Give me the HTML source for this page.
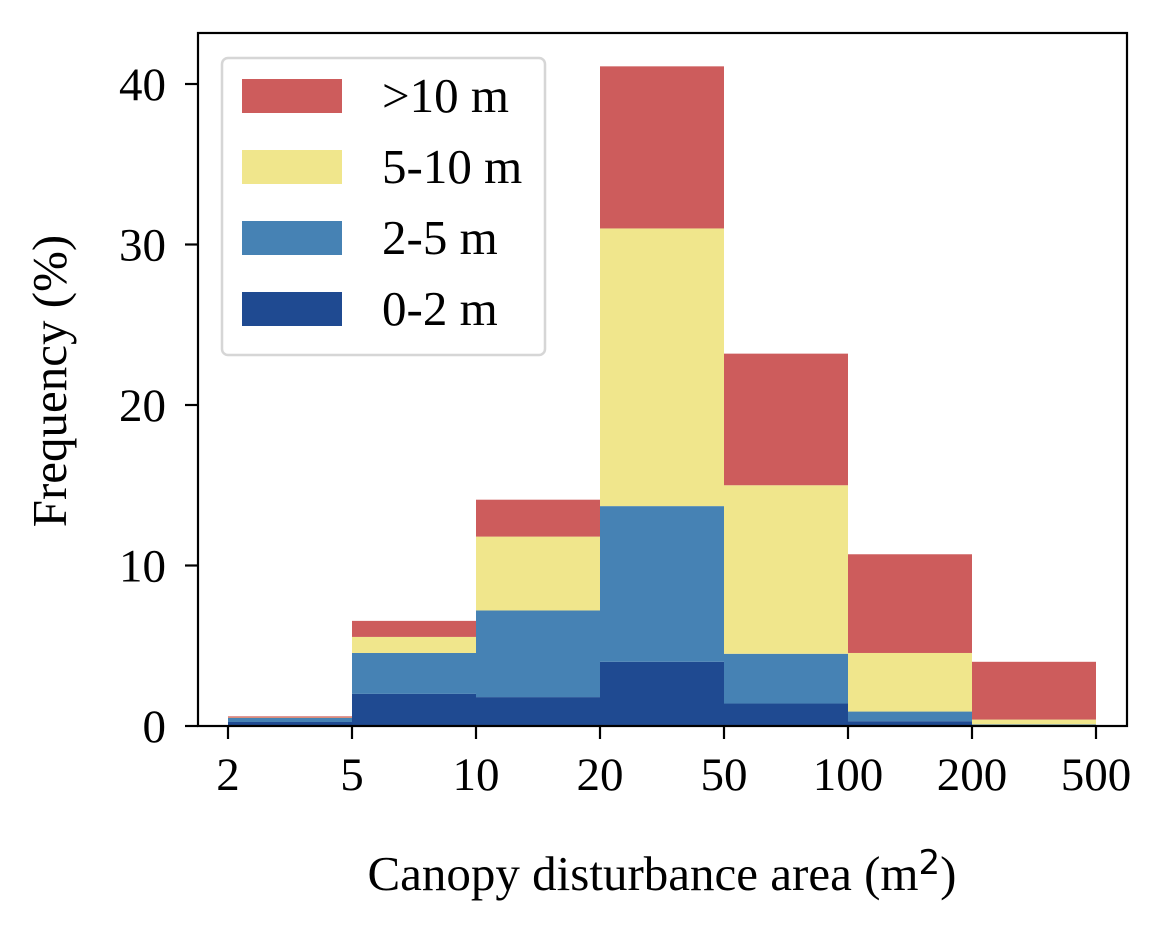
<!DOCTYPE html>
<html><head><meta charset="utf-8"><style>
body{margin:0;background:#fff;}
svg text{font-family:"Liberation Serif",serif;fill:#000;font-size:49px;}
svg text.tick{font-size:47px;}
</style></head><body>
<svg width="1163" height="933" xmlns="http://www.w3.org/2000/svg">
<rect x="0" y="0" width="1163" height="933" fill="#fff"/>
<g id="bars"></g>
<rect x="198" y="33" width="929" height="693" fill="none" stroke="#000" stroke-width="2.2"/>
<g id="axes"></g>
<text x="66" y="381" text-anchor="middle" transform="rotate(-90 66 381)">Frequency (%)</text>
<text x="662" y="890" text-anchor="middle">Canopy disturbance area (m<tspan dy="-16" style="font-size:34px;font-family:'DejaVu Sans',sans-serif">2</tspan><tspan dy="16">)</tspan></text>
<g>
<rect x="222" y="58" width="323" height="297" rx="6" fill="#fff" stroke="#d6d6d6" stroke-width="2.5"/>
<g id="legend"></g>
</g>
</svg>
<script>
const binLabels = ["2","5","10","20","50","100","200","500"];
const yTicks = [0,10,20,30,40];
const seriesNames = ["0-2 m","2-5 m","5-10 m",">10 m"];
const seriesColors = ["#1f4a91","#4682b4","#f0e68c","#cd5c5c"];
const s0_2 = [0.25, 2.0, 1.8, 4.0, 1.4, 0.3, 0.05];
const s2_5 = [0.25, 2.55, 5.4, 9.7, 3.1, 0.6, 0.05];
const s5_10 = [0.02, 1.0, 4.6, 17.3, 10.5, 3.65, 0.3];
const s10 = [0.08, 1.0, 2.3, 10.1, 8.2, 6.15, 3.6];
const series = [s0_2, s2_5, s5_10, s10];
const NS="http://www.w3.org/2000/svg";
const x0=228, dx=124, yBase=726, yScale=(726-84)/40;
const xs = i => x0 + i*dx;
const ys = v => yBase - v*yScale;
const bars=document.getElementById('bars');
for(let b=0;b<7;b++){
  let cum=0;
  for(let s=0;s<4;s++){
    const v=series[s][b];
    const r=document.createElementNS(NS,'rect');
    r.setAttribute('x',xs(b)); r.setAttribute('width',dx);
    r.setAttribute('y',ys(cum+v)); r.setAttribute('height',v*yScale);
    r.setAttribute('fill',seriesColors[s]);
    
    
    bars.appendChild(r);
    cum+=v;
  }
}
const axes=document.getElementById('axes');
binLabels.forEach((l,i)=>{
  const t=document.createElementNS(NS,'line');
  t.setAttribute('x1',xs(i));t.setAttribute('x2',xs(i));t.setAttribute('y1',726);t.setAttribute('y2',739);
  t.setAttribute('stroke','#000');t.setAttribute('stroke-width','2.2');
  axes.appendChild(t);
  const tx=document.createElementNS(NS,'text');
  tx.setAttribute('class','tick');
  tx.setAttribute('x',xs(i));tx.setAttribute('y',790);tx.setAttribute('text-anchor','middle');
  tx.textContent=l;
  
  
  axes.appendChild(tx);
});
yTicks.forEach(v=>{
  const t=document.createElementNS(NS,'line');
  t.setAttribute('x1',185);t.setAttribute('x2',198);t.setAttribute('y1',ys(v));t.setAttribute('y2',ys(v));
  t.setAttribute('stroke','#000');t.setAttribute('stroke-width','2.2');
  axes.appendChild(t);
  const tx=document.createElementNS(NS,'text');
  tx.setAttribute('class','tick');
  tx.setAttribute('x',166);tx.setAttribute('y',ys(v)+16);tx.setAttribute('text-anchor','end');
  tx.textContent=v;
  
  
  axes.appendChild(tx);
});
const lg=document.getElementById('legend');
for(let k=0;k<4;k++){
  const s=3-k, cy=96+k*71;
  const r=document.createElementNS(NS,'rect');
  r.setAttribute('x',242);r.setAttribute('y',cy-17);r.setAttribute('width',100);r.setAttribute('height',34);
  r.setAttribute('fill',seriesColors[s]);
  
  
  lg.appendChild(r);
  const tx=document.createElementNS(NS,'text');
  tx.setAttribute('x',382);tx.setAttribute('y',cy+16);
  tx.textContent=seriesNames[s];
  
  
  lg.appendChild(tx);
}
</script>
</body></html>
